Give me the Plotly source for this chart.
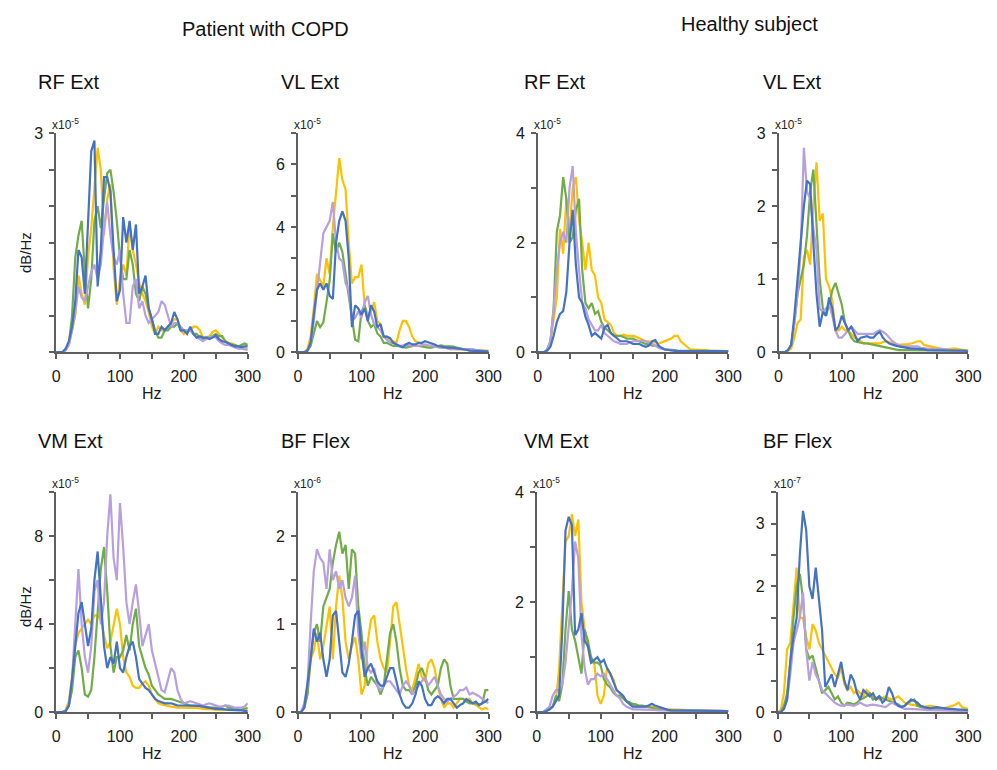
import plotly.graph_objects as go

W, H = 997, 770
FONT = "Liberation Sans, Arial, sans-serif"
AX = "#5f5f5f"
C_YEL = "#FFC000"
C_GRN = "#70AD47"
C_PUR = "#B79FE0"
C_BLU = "#4472C4"

freqs = list(range(0, 301, 5))
x_labels = [0, 100, 200, 300]
x_minor = [0, 50, 100, 150, 200, 250, 300]

headers = ["Patient with COPD", "Healthy subject"]
titles = ["RF Ext", "VL Ext", "RF Ext", "VL Ext", "VM Ext", "BF Flex", "VM Ext", "BF Flex"]
exponents = ["-5", "-5", "-5", "-5", "-5", "-6", "-5", "-7"]
y_max = [3, 7, 4, 3, 10, 2.5, 4, 3.5]
y_minor = [
    [0, 0.5, 1, 1.5, 2, 2.5, 3],
    [0, 1, 2, 3, 4, 5, 6, 7],
    [0, 1, 2, 3, 4],
    [0, 0.5, 1, 1.5, 2, 2.5, 3],
    [0, 2, 4, 6, 8, 10],
    [0, 0.5, 1, 1.5, 2, 2.5],
    [0, 1, 2, 3, 4],
    [0, 0.5, 1, 1.5, 2, 2.5, 3, 3.5],
]
y_labels = [
    [3],
    [0, 2, 4, 6],
    [0, 2, 4],
    [0, 1, 2, 3],
    [0, 4, 8],
    [0, 1, 2],
    [0, 2, 4],
    [0, 1, 2, 3],
]

# ---------------- Panel 1: COPD RF Ext (x1e-5)
copd_rf_yellow = [0, 0, 0, 0.03, 0.1, 0.3, 0.5, 1.05, 0.8, 0.65,
                  1.3, 1.7, 2.2, 2.8, 2.5, 1.6, 2.1, 2.3, 1.15, 0.65,
                  1.0, 1.2, 1.05, 1.75, 1.4, 1.2, 0.95, 0.8, 0.7, 0.55,
                  0.35, 0.25, 0.35, 0.3, 0.3, 0.35, 0.4, 0.45, 0.45, 0.3,
                  0.25, 0.3, 0.3, 0.35, 0.35, 0.3, 0.2, 0.2, 0.22, 0.28,
                  0.3, 0.25, 0.2, 0.15, 0.12, 0.12, 0.1, 0.08, 0.06, 0.05,
                  0.05]
copd_rf_green = [0, 0, 0, 0.03, 0.12, 0.5, 1.3, 1.6, 1.8, 1.1,
                 0.6, 1.0, 1.8, 2.0, 1.7, 2.1, 2.45, 2.5, 2.2, 1.8,
                 1.3, 1.0, 1.0, 1.4, 1.2, 0.8, 0.7, 0.9, 0.8, 0.6,
                 0.45, 0.3, 0.2, 0.2, 0.3, 0.3, 0.35, 0.35, 0.4, 0.3,
                 0.3, 0.28, 0.3, 0.25, 0.25, 0.2, 0.18, 0.2, 0.2, 0.22,
                 0.25, 0.22, 0.22, 0.15, 0.12, 0.1, 0.1, 0.08, 0.1, 0.12,
                 0.1]
copd_rf_purple = [0, 0, 0, 0.03, 0.1, 0.3, 0.55, 0.9, 0.75, 0.7,
                  0.9, 1.1, 1.2, 1.0, 1.2, 1.7, 2.05, 1.6, 1.3, 1.2,
                  1.4, 0.8, 0.4, 0.4, 0.9, 1.0, 0.6, 0.7, 0.5, 0.4,
                  0.45, 0.5, 0.55, 0.7, 0.65, 0.5, 0.35, 0.4, 0.4, 0.35,
                  0.3, 0.3, 0.3, 0.25, 0.2, 0.18, 0.15, 0.18, 0.2, 0.22,
                  0.2, 0.15, 0.12, 0.1, 0.1, 0.08, 0.07, 0.05, 0.05, 0.04,
                  0.03]
copd_rf_blue = [0, 0, 0, 0.05, 0.15, 0.35, 0.7, 1.4, 1.3, 0.8,
                1.85, 2.75, 2.9, 0.9, 1.4, 2.4, 2.4, 2.2, 1.4, 0.7,
                0.85, 1.85, 1.5, 1.8, 1.4, 1.75, 0.8, 0.9, 1.05, 0.6,
                0.45, 0.25, 0.25, 0.35, 0.3, 0.35, 0.4, 0.55, 0.45, 0.3,
                0.3, 0.25, 0.35, 0.25, 0.2, 0.22, 0.2, 0.2, 0.18, 0.2,
                0.23, 0.18, 0.15, 0.14, 0.12, 0.1, 0.08, 0.08, 0.07, 0.08,
                0.08]

# ---------------- Panel 2: COPD VL Ext (x1e-5)
copd_vl_yellow = [0, 0, 0, 0.1, 0.5, 1.4, 2.5, 2.3, 2.1, 3.0,
                  2.5, 4.0, 5.0, 6.2, 5.5, 5.2, 3.5, 2.2, 2.4, 2.4,
                  2.8, 1.5, 1.2, 1.3, 1.6, 1.0, 0.9, 0.5, 0.5, 0.3,
                  0.35, 0.3, 0.7, 1.0, 1.0, 0.8, 0.5, 0.35, 0.3, 0.25,
                  0.2, 0.22, 0.2, 0.18, 0.15, 0.15, 0.15, 0.12, 0.1, 0.1,
                  0.1, 0.1, 0.08, 0.08, 0.06, 0.06, 0.05, 0.06, 0.07, 0.05,
                  0.05]
copd_vl_green = [0, 0, 0, 0.05, 0.2, 0.6, 1.0, 0.8, 0.95, 1.6,
                 2.3, 3.8, 3.2, 3.5, 3.2, 2.5, 1.8, 1.0, 0.4, 0.35,
                 1.3, 1.5, 1.0, 0.8, 0.9, 0.6, 0.5, 0.3, 0.3, 0.25,
                 0.2, 0.2, 0.2, 0.18, 0.15, 0.18, 0.2, 0.22, 0.2, 0.18,
                 0.15, 0.15, 0.15, 0.18, 0.2, 0.22, 0.2, 0.2, 0.2, 0.18,
                 0.15, 0.12, 0.1, 0.1, 0.08, 0.06, 0.05, 0.05, 0.05, 0.04,
                 0.03]
copd_vl_purple = [0, 0, 0, 0.05, 0.3, 1.0, 2.0, 2.8, 3.8, 4.0,
                  4.2, 4.8, 3.5, 3.0, 2.9, 2.2, 2.0, 1.0, 1.1, 1.3,
                  1.1, 1.6, 1.8, 1.2, 0.9, 0.8, 0.7, 0.5, 0.4, 0.3,
                  0.3, 0.25, 0.2, 0.22, 0.25, 0.22, 0.2, 0.2, 0.2, 0.22,
                  0.25, 0.22, 0.2, 0.18, 0.15, 0.15, 0.15, 0.12, 0.1, 0.1,
                  0.1, 0.1, 0.12, 0.12, 0.1, 0.1, 0.08, 0.06, 0.05, 0.04,
                  0.03]
copd_vl_blue = [0, 0, 0, 0.05, 0.3, 1.2, 2.0, 2.2, 2.0, 2.2,
                1.8, 1.7, 3.5, 4.2, 4.5, 4.2, 3.0, 0.8, 1.5, 1.4,
                1.2, 1.4, 1.0, 1.5, 1.3, 0.8, 0.9, 0.5, 0.5, 0.45,
                0.3, 0.25, 0.2, 0.15, 0.25, 0.3, 0.25, 0.25, 0.3, 0.3,
                0.35, 0.32, 0.3, 0.25, 0.2, 0.18, 0.15, 0.15, 0.15, 0.14,
                0.12, 0.1, 0.1, 0.08, 0.05, 0.05, 0.05, 0.04, 0.03, 0.03,
                0.02]

# ---------------- Panel 3: Healthy RF Ext (x1e-5)
healthy_rf_yellow = [0, 0, 0, 0.05, 0.2, 0.6, 1.0, 2.25, 1.8, 2.8,
                     2.2, 3.0, 3.2, 2.4, 2.0, 1.5, 2.0, 1.5, 1.4, 1.0,
                     0.9, 0.6, 0.55, 0.5, 0.35, 0.3, 0.3, 0.32, 0.3, 0.3,
                     0.3, 0.28, 0.25, 0.22, 0.2, 0.2, 0.18, 0.18, 0.15, 0.18,
                     0.2, 0.22, 0.25, 0.3, 0.3, 0.2, 0.15, 0.1, 0.05, 0.05,
                     0.05, 0.05, 0.04, 0.04, 0.03, 0.03, 0.03, 0.02, 0.02, 0.02,
                     0.01]
healthy_rf_green = [0, 0, 0, 0.05, 0.2, 0.8, 2.2, 2.5, 3.2, 2.8,
                    2.0, 2.1, 2.6, 2.8, 1.5, 0.9, 0.8, 0.9, 0.7, 0.75,
                    0.55, 0.45, 0.4, 0.35, 0.3, 0.3, 0.3, 0.28, 0.25, 0.25,
                    0.25, 0.22, 0.2, 0.18, 0.15, 0.15, 0.12, 0.12, 0.1, 0.08,
                    0.05, 0.05, 0.05, 0.04, 0.03, 0.03, 0.03, 0.03, 0.03, 0.03,
                    0.03, 0.03, 0.03, 0.02, 0.02, 0.02, 0.02, 0.02, 0.02, 0.02,
                    0.02]
healthy_rf_purple = [0, 0, 0, 0.05, 0.2, 0.8, 1.5, 2.0, 2.2, 2.0,
                     3.0, 3.4, 2.2, 1.5, 0.9, 0.8, 0.6, 0.5, 0.4, 0.4,
                     0.5, 0.35, 0.3, 0.25, 0.2, 0.18, 0.15, 0.15, 0.15, 0.18,
                     0.2, 0.2, 0.2, 0.22, 0.2, 0.18, 0.15, 0.12, 0.08, 0.06,
                     0.05, 0.04, 0.03, 0.02, 0.02, 0.02, 0.02, 0.02, 0.02, 0.02,
                     0.02, 0.02, 0.02, 0.02, 0.02, 0.02, 0.02, 0.02, 0.02, 0.02,
                     0.02]
healthy_rf_blue = [0, 0, 0, 0.03, 0.1, 0.3, 0.55, 0.7, 0.75, 1.1,
                   2.0, 2.6, 1.6, 1.0, 0.9, 0.65, 0.5, 0.3, 0.35, 0.3,
                   0.25, 0.45, 0.5, 0.35, 0.3, 0.25, 0.2, 0.2, 0.2, 0.18,
                   0.15, 0.15, 0.15, 0.12, 0.1, 0.12, 0.2, 0.22, 0.12, 0.08,
                   0.05, 0.04, 0.03, 0.03, 0.02, 0.02, 0.02, 0.02, 0.02, 0.02,
                   0.02, 0.02, 0.02, 0.02, 0.02, 0.02, 0.02, 0.02, 0.02, 0.02,
                   0.02]

# ---------------- Panel 4: Healthy VL Ext (x1e-5)
healthy_vl_yellow = [0, 0, 0, 0.02, 0.05, 0.2, 0.4, 0.45, 1.3, 1.4,
                     1.2, 2.0, 2.6, 1.8, 1.9, 1.0, 0.9, 0.7, 0.3, 0.3,
                     0.35, 0.3, 0.3, 0.25, 0.2, 0.18, 0.15, 0.12, 0.12, 0.12,
                     0.12, 0.12, 0.12, 0.14, 0.15, 0.14, 0.12, 0.1, 0.1, 0.1,
                     0.1, 0.11, 0.12, 0.14, 0.15, 0.15, 0.1, 0.09, 0.08, 0.06,
                     0.05, 0.05, 0.04, 0.04, 0.05, 0.05, 0.05, 0.04, 0.03, 0.03,
                     0.02]
healthy_vl_green = [0, 0, 0, 0.03, 0.1, 0.4, 0.8, 1.0, 1.2, 1.6,
                    2.2, 2.5, 1.7, 1.0, 0.6, 0.5, 0.65, 0.85, 0.95, 0.8,
                    0.65, 0.4, 0.3, 0.2, 0.15, 0.14, 0.12, 0.12, 0.12, 0.11,
                    0.1, 0.09, 0.08, 0.07, 0.06, 0.05, 0.05, 0.04, 0.03, 0.03,
                    0.03, 0.03, 0.02, 0.02, 0.02, 0.02, 0.02, 0.02, 0.02, 0.02,
                    0.02, 0.02, 0.02, 0.02, 0.02, 0.02, 0.02, 0.02, 0.02, 0.02,
                    0.02]
healthy_vl_purple = [0, 0, 0, 0.03, 0.1, 0.4, 0.8, 1.4, 2.8, 2.2,
                     2.1, 1.7, 1.4, 0.6, 0.55, 0.6, 0.65, 0.5, 0.3, 0.2,
                     0.2, 0.25, 0.3, 0.35, 0.3, 0.25, 0.25, 0.25, 0.25, 0.25,
                     0.25, 0.28, 0.3, 0.28, 0.25, 0.2, 0.15, 0.12, 0.1, 0.08,
                     0.08, 0.08, 0.08, 0.07, 0.08, 0.06, 0.05, 0.05, 0.05, 0.04,
                     0.04, 0.05, 0.05, 0.04, 0.03, 0.03, 0.03, 0.02, 0.02, 0.02,
                     0.02]
healthy_vl_blue = [0, 0, 0, 0.03, 0.1, 0.5, 1.0, 1.5, 2.0, 2.35,
                   2.3, 1.5, 0.8, 0.35, 0.55, 0.5, 0.75, 0.6, 0.3, 0.35,
                   0.5, 0.4, 0.3, 0.35, 0.25, 0.15, 0.2, 0.21, 0.22, 0.2,
                   0.2, 0.25, 0.28, 0.2, 0.15, 0.12, 0.1, 0.09, 0.08, 0.07,
                   0.06, 0.05, 0.05, 0.05, 0.05, 0.04, 0.04, 0.03, 0.03, 0.03,
                   0.03, 0.03, 0.03, 0.03, 0.02, 0.02, 0.02, 0.02, 0.02, 0.02,
                   0.01]

# ---------------- Panel 5: COPD VM Ext (x1e-5)
copd_vm_yellow = [0, 0, 0, 0.1, 0.5, 1.6, 3.0, 3.6, 3.8, 4.0,
                  4.2, 4.0, 4.4, 4.4, 4.2, 3.5, 2.9, 3.2, 4.0, 4.7,
                  4.0, 2.5, 1.8, 1.6, 1.2, 1.1, 1.1, 1.3, 1.4, 1.2,
                  0.8, 0.6, 0.4, 0.35, 0.3, 0.28, 0.25, 0.22, 0.2, 0.2,
                  0.2, 0.2, 0.2, 0.2, 0.2, 0.18, 0.15, 0.15, 0.15, 0.12,
                  0.1, 0.1, 0.1, 0.1, 0.1, 0.1, 0.1, 0.1, 0.1, 0.1,
                  0.1]
copd_vm_green = [0, 0, 0, 0.05, 0.3, 1.0, 2.5, 2.8, 2.0, 0.8,
                 0.7, 1.0, 2.5, 4.5, 6.5, 7.5, 5.5, 3.0, 1.8, 2.5,
                 2.5, 2.8, 3.5, 2.8, 4.0, 4.7, 3.0, 2.5, 2.0, 1.7,
                 1.2, 1.0, 0.8, 0.7, 0.6, 0.6, 0.6, 0.55, 0.5, 0.45,
                 0.4, 0.35, 0.3, 0.3, 0.3, 0.28, 0.25, 0.22, 0.2, 0.2,
                 0.2, 0.22, 0.25, 0.3, 0.2, 0.18, 0.15, 0.12, 0.1, 0.15,
                 0.2]
copd_vm_purple = [0, 0, 0, 0.05, 0.3, 1.5, 4.0, 6.5, 4.0, 2.5,
                  1.8, 3.0, 5.5, 6.0, 4.0, 5.0, 8.0, 9.9, 7.0, 6.0,
                  9.5, 7.5, 5.0, 4.0, 5.0, 5.8, 4.5, 3.0, 3.5, 4.0,
                  2.8, 2.2, 1.5, 1.0, 0.9, 1.5, 2.0, 1.8, 1.0, 0.6,
                  0.4, 0.45, 0.5, 0.45, 0.4, 0.35, 0.3, 0.35, 0.4, 0.35,
                  0.3, 0.25, 0.25, 0.3, 0.3, 0.25, 0.2, 0.2, 0.2, 0.25,
                  0.4]
copd_vm_blue = [0, 0, 0, 0.05, 0.3, 1.5, 3.0, 4.5, 5.0, 4.0,
                3.0, 3.8, 6.0, 7.3, 5.0, 3.0, 2.0, 2.5, 2.2, 3.2,
                2.0, 1.8, 2.5, 3.0, 3.2, 2.5, 1.5, 1.3, 1.1, 1.0,
                0.8, 0.6, 0.5, 0.45, 0.4, 0.4, 0.4, 0.35, 0.3, 0.3,
                0.3, 0.3, 0.3, 0.3, 0.3, 0.28, 0.25, 0.22, 0.2, 0.18,
                0.15, 0.15, 0.15, 0.12, 0.1, 0.1, 0.1, 0.08, 0.08, 0.06,
                0.05]

# ---------------- Panel 6: COPD BF Flex (x1e-6)
copd_bf_yellow = [0, 0, 0.05, 0.2, 0.6, 0.7, 0.9, 0.6, 0.75, 1.0,
                  1.2, 0.6, 1.2, 1.55, 1.3, 0.8, 0.6, 0.75, 0.85, 0.6,
                  0.2, 0.3, 0.8, 1.05, 1.1, 0.8, 0.6, 0.5, 0.45, 0.8,
                  1.2, 1.25, 1.0, 0.7, 0.5, 0.3, 0.25, 0.4, 0.55, 0.4,
                  0.35, 0.55, 0.6, 0.5, 0.3, 0.15, 0.05, 0.1, 0.1, 0.05,
                  0.1, 0.15, 0.15, 0.12, 0.15, 0.1, 0.08, 0.05, 0.03, 0.05,
                  0.03]
copd_bf_green = [0, 0, 0.05, 0.2, 0.6, 0.9, 1.0, 0.8, 1.2, 1.3,
                 1.4, 1.7, 1.9, 2.05, 1.8, 1.9, 1.4, 1.85, 1.8, 1.2,
                 0.9, 0.5, 0.3, 0.4, 0.35, 0.3, 0.2, 0.3, 0.6, 0.9,
                 1.0, 0.8, 0.5, 0.3, 0.25, 0.25, 0.2, 0.3, 0.45, 0.5,
                 0.4, 0.25, 0.2, 0.25, 0.3, 0.5, 0.6, 0.55, 0.3, 0.15,
                 0.15, 0.15, 0.15, 0.12, 0.1, 0.1, 0.1, 0.08, 0.1, 0.25,
                 0.25]
copd_bf_purple = [0, 0, 0.1, 0.3, 1.0, 1.6, 1.85, 1.75, 1.7, 1.4,
                  1.85, 1.5, 1.6, 1.4, 1.5, 1.3, 1.2, 1.3, 1.55, 0.9,
                  0.6, 0.8, 0.5, 0.45, 0.5, 0.3, 0.25, 0.3, 0.35, 0.35,
                  0.3, 0.25, 0.2, 0.3, 0.35, 0.3, 0.2, 0.25, 0.3, 0.35,
                  0.4, 0.3, 0.35, 0.4, 0.3, 0.2, 0.15, 0.12, 0.15, 0.18,
                  0.2, 0.25, 0.25, 0.28, 0.2, 0.22, 0.2, 0.18, 0.15, 0.12,
                  0.1]
copd_bf_blue = [0, 0, 0.05, 0.3, 0.6, 0.95, 0.8, 0.9, 0.6, 0.4,
                0.6, 1.1, 1.15, 0.8, 0.45, 0.4, 0.55, 0.8, 1.1, 1.15,
                0.7, 0.4, 0.5, 0.55, 0.45, 0.35, 0.3, 0.3, 0.4, 0.5,
                0.5, 0.35, 0.2, 0.1, 0.05, 0.05, 0.1, 0.2, 0.35, 0.3,
                0.15, 0.08, 0.08, 0.15, 0.18, 0.15, 0.1, 0.15, 0.15, 0.1,
                0.05, 0.08, 0.1, 0.15, 0.12, 0.1, 0.12, 0.08, 0.1, 0.12,
                0.15]

# ---------------- Panel 7: Healthy VM Ext (x1e-5)
healthy_vm_yellow = [0, 0, 0, 0.02, 0.05, 0.1, 0.2, 0.8, 2.0, 3.1,
                     3.2, 3.6, 3.2, 3.5, 2.0, 1.5, 1.2, 0.9, 0.9, 0.3,
                     0.15, 0.3, 0.8, 0.7, 0.6, 0.4, 0.35, 0.3, 0.2, 0.15,
                     0.12, 0.1, 0.1, 0.1, 0.1, 0.1, 0.1, 0.1, 0.08, 0.06,
                     0.05, 0.05, 0.05, 0.05, 0.05, 0.04, 0.04, 0.03, 0.03, 0.03,
                     0.02, 0.02, 0.02, 0.02, 0.02, 0.02, 0.02, 0.02, 0.02, 0.02,
                     0.02]
healthy_vm_green = [0, 0, 0, 0.02, 0.05, 0.1, 0.3, 0.2, 0.5, 1.5,
                    2.2, 1.5, 1.3, 1.0, 0.7, 1.5, 1.3, 1.0, 0.9, 0.9,
                    0.85, 0.6, 0.5, 0.45, 0.35, 0.3, 0.3, 0.25, 0.2, 0.18,
                    0.15, 0.14, 0.12, 0.12, 0.1, 0.09, 0.08, 0.06, 0.05, 0.05,
                    0.04, 0.03, 0.03, 0.03, 0.03, 0.02, 0.02, 0.02, 0.02, 0.02,
                    0.02, 0.02, 0.02, 0.02, 0.02, 0.02, 0.02, 0.02, 0.02, 0.02,
                    0.02]
healthy_vm_purple = [0, 0, 0, 0.05, 0.1, 0.3, 0.4, 0.4, 0.5, 0.9,
                     1.5, 2.2, 3.1, 2.8, 1.4, 0.8, 0.5, 0.6, 0.6, 0.7,
                     0.65, 0.7, 0.6, 0.5, 0.4, 0.3, 0.25, 0.15, 0.1, 0.08,
                     0.05, 0.05, 0.05, 0.05, 0.05, 0.05, 0.05, 0.04, 0.03, 0.03,
                     0.02, 0.02, 0.02, 0.02, 0.02, 0.02, 0.02, 0.02, 0.02, 0.02,
                     0.02, 0.02, 0.02, 0.02, 0.02, 0.02, 0.02, 0.02, 0.02, 0.02,
                     0.02]
healthy_vm_blue = [0, 0, 0, 0.02, 0.05, 0.1, 0.2, 0.3, 1.5, 3.3,
                   3.55, 3.4, 1.4, 1.5, 1.8, 1.3, 1.2, 0.9, 0.95, 1.0,
                   0.9, 0.95, 0.8, 0.7, 0.55, 0.4, 0.35, 0.3, 0.2, 0.15,
                   0.1, 0.1, 0.1, 0.1, 0.1, 0.12, 0.15, 0.12, 0.1, 0.08,
                   0.05, 0.04, 0.03, 0.03, 0.03, 0.03, 0.03, 0.03, 0.02, 0.02,
                   0.02, 0.02, 0.02, 0.02, 0.02, 0.02, 0.02, 0.02, 0.02, 0.02,
                   0.02]

# ---------------- Panel 8: Healthy BF Flex (x1e-7)
healthy_bf_yellow = [0, 0.03, 0.3, 1.0, 1.1, 1.7, 2.3, 1.5, 1.5, 1.2,
                     1.0, 1.4, 1.3, 1.1, 1.0, 0.9, 0.8, 0.7, 0.6, 0.55,
                     0.7, 0.45, 0.35, 0.4, 0.3, 0.35, 0.3, 0.25, 0.35, 0.3,
                     0.25, 0.22, 0.2, 0.22, 0.25, 0.22, 0.2, 0.22, 0.25, 0.2,
                     0.15, 0.13, 0.12, 0.1, 0.1, 0.09, 0.08, 0.09, 0.1, 0.09,
                     0.08, 0.07, 0.06, 0.07, 0.08, 0.1, 0.12, 0.15, 0.08, 0.06,
                     0.05]
healthy_bf_green = [0, 0, 0.1, 0.3, 0.8, 1.5, 2.0, 2.2, 1.8, 1.0,
                    0.85, 0.9, 0.7, 0.5, 0.3, 0.35, 0.4, 0.3, 0.2, 0.25,
                    0.15, 0.1, 0.15, 0.14, 0.12, 0.15, 0.2, 0.22, 0.25, 0.3,
                    0.2, 0.22, 0.25, 0.22, 0.2, 0.18, 0.15, 0.14, 0.12, 0.08,
                    0.1, 0.15, 0.18, 0.2, 0.1, 0.08, 0.06, 0.05, 0.05, 0.05,
                    0.05, 0.04, 0.04, 0.04, 0.03, 0.03, 0.03, 0.03, 0.03, 0.02,
                    0.02]
healthy_bf_purple = [0, 0, 0.05, 0.2, 0.6, 1.1, 1.3, 1.5, 1.9, 1.0,
                     0.5, 0.8, 0.6, 0.5, 0.35, 0.3, 0.25, 0.2, 0.15, 0.12,
                     0.1, 0.11, 0.12, 0.11, 0.1, 0.12, 0.15, 0.12, 0.1, 0.11,
                     0.12, 0.11, 0.1, 0.09, 0.08, 0.12, 0.15, 0.12, 0.1, 0.07,
                     0.05, 0.05, 0.05, 0.04, 0.04, 0.04, 0.04, 0.03, 0.03, 0.03,
                     0.02, 0.02, 0.02, 0.02, 0.02, 0.02, 0.02, 0.02, 0.02, 0.02,
                     0.02]
healthy_bf_blue = [0, 0, 0.05, 0.2, 0.8, 1.2, 1.5, 2.5, 3.2, 2.9,
                   2.0, 1.8, 2.3, 1.8, 1.3, 0.4, 0.5, 0.6, 0.4, 0.6,
                   0.8, 0.5, 0.35, 0.6, 0.5, 0.3, 0.2, 0.35, 0.3, 0.25,
                   0.3, 0.2, 0.25, 0.15, 0.2, 0.4, 0.3, 0.15, 0.1, 0.08,
                   0.1, 0.15, 0.2, 0.18, 0.15, 0.1, 0.08, 0.07, 0.06, 0.07,
                   0.08, 0.07, 0.06, 0.05, 0.05, 0.05, 0.04, 0.04, 0.04, 0.03,
                   0.03]

panel_series = [
    [copd_rf_yellow, copd_rf_green, copd_rf_purple, copd_rf_blue],
    [copd_vl_yellow, copd_vl_green, copd_vl_purple, copd_vl_blue],
    [healthy_rf_yellow, healthy_rf_green, healthy_rf_purple, healthy_rf_blue],
    [healthy_vl_yellow, healthy_vl_green, healthy_vl_purple, healthy_vl_blue],
    [copd_vm_yellow, copd_vm_green, copd_vm_purple, copd_vm_blue],
    [copd_bf_yellow, copd_bf_green, copd_bf_purple, copd_bf_blue],
    [healthy_vm_yellow, healthy_vm_green, healthy_vm_purple, healthy_vm_blue],
    [healthy_bf_yellow, healthy_bf_green, healthy_bf_purple, healthy_bf_blue],
]
colors = [C_YEL, C_GRN, C_PUR, C_BLU]

# pixel geometry of each plot area: (left, right, top, bottom)
boxes = [
    (53, 248, 128, 352), (299, 493, 128, 352), (543, 737, 128, 352), (788, 981, 128, 352),
    (53, 248, 495, 720), (299, 493, 495, 720), (542, 737, 495, 720), (787, 981, 495, 720),
]
title_pos = [(33, 76), (280, 76), (527, 76), (770, 76),
             (33, 443), (280, 443), (527, 443), (770, 443)]

fig = go.Figure()
layout = dict(
    width=W, height=H, margin=dict(l=0, r=0, t=0, b=0),
    paper_bgcolor="white", plot_bgcolor="white", showlegend=False,
    font=dict(family=FONT, color="#1a1a1a"),
)
annotations = []

for i, (series, box) in enumerate(zip(panel_series, boxes)):
    n = i + 1
    xa = "x" if n == 1 else f"x{n}"
    ya = "y" if n == 1 else f"y{n}"
    for vals, col in zip(series, colors):
        assert len(vals) == len(freqs), (i, len(vals))
        fig.add_trace(go.Scatter(x=freqs, y=vals, mode="lines", xaxis=xa, yaxis=ya,
                                 line=dict(color=col, width=2.2), hoverinfo="skip"))
    l, r, t, b = box
    common = dict(showline=True, linecolor=AX, linewidth=1.5, ticks="outside", ticklen=5,
                  tickcolor=AX, tickwidth=1.5, showgrid=False, zeroline=False,
                  tickfont=dict(family=FONT, size=16, color="#1a1a1a"), fixedrange=True)
    layout["xaxis" if n == 1 else f"xaxis{n}"] = dict(
        domain=[l / W, r / W], range=[0, 300], anchor=ya,
        tickmode="array", tickvals=x_labels, ticklabelstandoff=4,
        minor=dict(tickmode="array", tickvals=x_minor, ticks="outside", ticklen=5,
                   tickcolor=AX, tickwidth=1.5, showgrid=False),
        **common)
    layout["yaxis" if n == 1 else f"yaxis{n}"] = dict(
        domain=[1 - b / H, 1 - t / H], range=[0, y_max[i]], anchor=xa,
        tickmode="array", tickvals=y_labels[i], ticklabelstandoff=3,
        minor=dict(tickmode="array", tickvals=y_minor[i], ticks="outside", ticklen=5,
                   tickcolor=AX, tickwidth=1.5, showgrid=False),
        **common)
    # panel title
    tx, ty = title_pos[i]
    annotations.append(dict(text=titles[i], x=tx / W, y=1 - ty / H, xref="paper", yref="paper",
                            xanchor="left", yanchor="middle", showarrow=False,
                            font=dict(family=FONT, size=20, color="#111")))
    # multiplier
    annotations.append(dict(text=f"x10<sup>{exponents[i]}</sup>", x=(l - 6) / W, y=1 - (t + 1) / H,
                            xref="paper", yref="paper", xanchor="left", yanchor="bottom",
                            showarrow=False, font=dict(family=FONT, size=12, color="#222")))
    # Hz label
    annotations.append(dict(text="Hz", x=(l + r) / 2 / W, y=1 - (b + 42) / H, xref="paper",
                            yref="paper", xanchor="center", yanchor="middle", showarrow=False,
                            font=dict(family=FONT, size=16, color="#1a1a1a")))

for yc in (250, 612):
    annotations.append(dict(text="dB/Hz", x=22 / W, y=1 - yc / H, xref="paper", yref="paper",
                            xanchor="center", yanchor="middle", textangle=-90, showarrow=False,
                            font=dict(family=FONT, size=15, color="#1a1a1a")))

annotations.append(dict(text=headers[0], x=266 / W, y=1 - 21 / H, xref="paper", yref="paper",
                        xanchor="center", yanchor="middle", showarrow=False,
                        font=dict(family=FONT, size=20, color="#111")))
annotations.append(dict(text=headers[1], x=758 / W, y=1 - 16 / H, xref="paper", yref="paper",
                        xanchor="center", yanchor="middle", showarrow=False,
                        font=dict(family=FONT, size=20, color="#111")))

layout["annotations"] = annotations
fig.update_layout(**layout)
fig.write_html("out.html")
